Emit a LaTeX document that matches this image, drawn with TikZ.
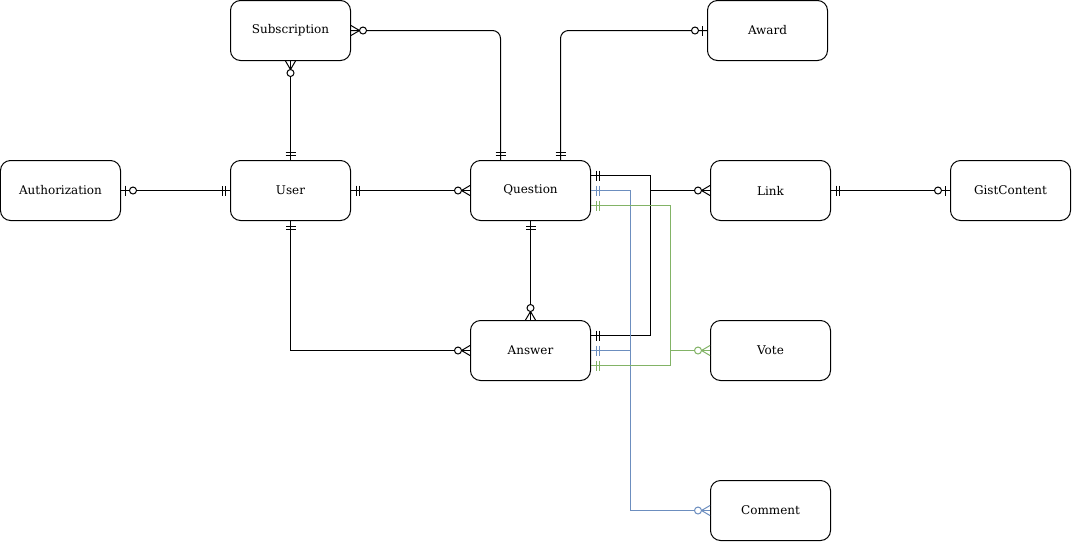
\documentclass[tikz,border=0pt]{standalone}
\usepackage{fontspec}
\setmainfont{DejaVu Serif}
\usepackage{tikz}
\usetikzlibrary{positioning}
\usepackage{xcolor}
\definecolor{erblue}{RGB}{108,142,191}
\definecolor{ergreen}{RGB}{130,179,102}
\tikzstyle{entity} = [draw, rounded corners=10pt, minimum width=120pt, minimum height=60pt, font=\fontsize{12}{14}\selectfont, line width=1pt]
\tikzstyle{rel} = [line width=1pt]
\tikzset{
  mandone/.pic={\draw[line width=1pt] (5,-5) -- (5,5); \draw[line width=1pt] (8,-5) -- (8,5);},
  zeroone/.pic={\draw[line width=1pt] (4.5,-5) -- (4.5,5); \draw[line width=1pt, fill=white] (12,0) circle (3.5);},
  zeromany/.pic={\draw[line width=1pt] (0,-5) -- (8.5,0) -- (0,5); \draw[line width=1pt, fill=white] (12,0) circle (3.5);}
}

\begin{document}
\begin{tikzpicture}[x=1pt, y=-1pt]
\useasboundingbox (-0.5,-0.5) rectangle (1071.5,541.5);

% Entities
\node[entity] (subscription) at (290,30) {Subscription};
\node[entity] (award) at (767,30) {Award};
\node[entity] (authorization) at (60,190) {Authorization};
\node[entity] (user) at (290,190) {User};
\node[entity] (question) at (530,190) {Question};
\node[entity] (link) at (770,190) {Link};
\node[entity] (gist) at (1010,190) {GistContent};
\node[entity] (answer) at (530,350) {Answer};
\node[entity] (vote) at (770,350) {Vote};
\node[entity] (comment) at (770,510) {Comment};

% Relations (black)
\draw[rel, rounded corners=8pt] (subscription.east) -| ([xshift=-30pt]question.north);
\pic[rotate=0] at (subscription.east) {zeromany};
\pic[rotate=90] at ([xshift=-30pt]question.north) {mandone};

\draw[rel, rounded corners=8pt] ([xshift=30pt]question.north) |- (award.west);
\pic[rotate=90] at ([xshift=30pt]question.north) {mandone};
\pic[rotate=180] at (award.west) {zeroone};

\draw[rel] (subscription.south) -- (user.north);
\pic[rotate=-90] at (subscription.south) {zeromany};
\pic[rotate=90] at (user.north) {mandone};

\draw[rel] (authorization.east) -- (user.west);
\pic[rotate=0] at (authorization.east) {zeroone};
\pic[rotate=180] at (user.west) {mandone};

\draw[rel] (user.east) -- (question.west);
\pic[rotate=0] at (user.east) {mandone};
\pic[rotate=180] at (question.west) {zeromany};

\draw[rel] (user.south) |- (answer.west);
\pic[rotate=-90] at (user.south) {mandone};
\pic[rotate=180] at (answer.west) {zeromany};

\draw[rel] (question.south) -- (answer.north);
\pic[rotate=-90] at (question.south) {mandone};
\pic[rotate=90] at (answer.north) {zeromany};

\draw[rel] (link.east) -- (gist.west);
\pic[rotate=0] at (link.east) {mandone};
\pic[rotate=180] at (gist.west) {zeroone};

% Link from question and answer
\draw[rel] ([yshift=15pt]question.east) -| ([xshift=-60pt]link.west) -- (link.west);
\draw[rel] ([yshift=15pt]answer.east) -| ([xshift=-60pt]link.west);
\pic[rotate=0] at ([yshift=15pt]question.east) {mandone};
\pic[rotate=0] at ([yshift=15pt]answer.east) {mandone};
\pic[rotate=180] at (link.west) {zeromany};

% Comment from question and answer
\draw[rel, erblue] (question.east) -| ([xshift=-80pt]comment.west) -- (comment.west);
\draw[rel, erblue] (answer.east) -| ([xshift=-80pt]comment.west);
\pic[rotate=0, erblue] at (question.east) {mandone};
\pic[rotate=0, erblue] at (answer.east) {mandone};
\pic[rotate=180, erblue] at (comment.west) {zeromany};

% Vote from question and answer
\draw[rel, ergreen] ([yshift=-15pt]question.east) -| ([xshift=-40pt]vote.west) -- (vote.west);
\draw[rel, ergreen] ([yshift=-15pt]answer.east) -| ([xshift=-40pt]vote.west);
\pic[rotate=0, ergreen] at ([yshift=-15pt]question.east) {mandone};
\pic[rotate=0, ergreen] at ([yshift=-15pt]answer.east) {mandone};
\pic[rotate=180, ergreen] at (vote.west) {zeromany};
\end{tikzpicture}
\end{document}
